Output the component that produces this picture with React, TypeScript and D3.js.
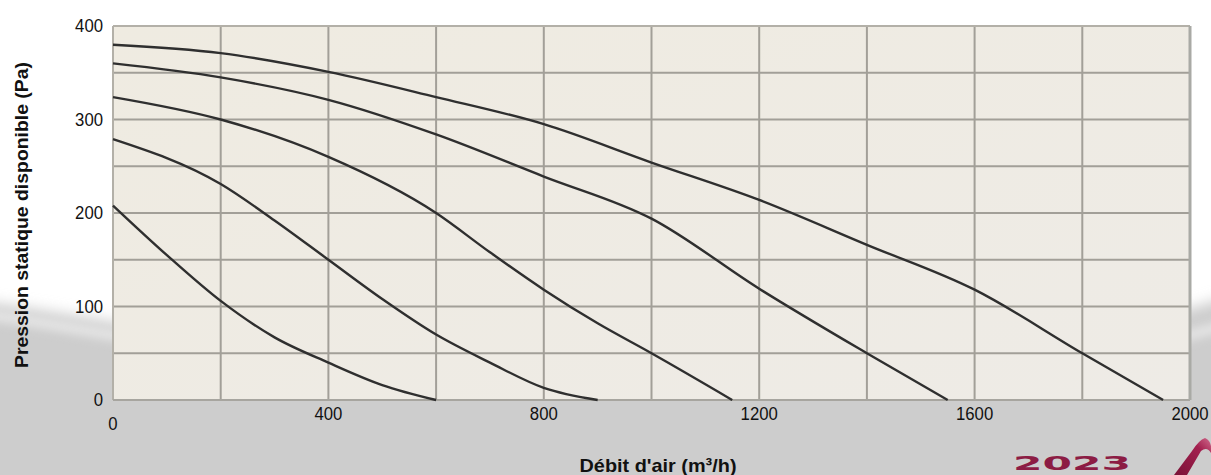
import React from "react";
import * as d3 from "d3";

// Air flow (m³/h) and available static pressure (Pa) for each fan curve
const curve1Flow = [0, 200, 400, 600, 800, 1000, 1200, 1400, 1600, 1800, 1950];
const curve1Pressure = [380, 371, 351, 324, 295, 254, 214, 166, 118, 50, 0];

const curve2Flow = [0, 200, 400, 600, 800, 1000, 1200, 1400, 1550];
const curve2Pressure = [360, 345, 321, 284, 239, 194, 119, 50, 0];

const curve3Flow = [0, 200, 400, 600, 700, 800, 900, 1000, 1150];
const curve3Pressure = [324, 300, 260, 200, 158, 118, 82, 50, 0];

const curve4Flow = [0, 200, 300, 400, 500, 600, 700, 800, 900];
const curve4Pressure = [279, 231, 192, 150, 108, 70, 40, 13, 0];

const curve5Flow = [0, 100, 200, 300, 400, 500, 600];
const curve5Pressure = [208, 155, 106, 67, 40, 16, 0];

const xTickLabels = [0, 400, 800, 1200, 1600, 2000];
const yTickLabels = [0, 100, 200, 300, 400];
const xGrid = [200, 400, 600, 800, 1000, 1200, 1400, 1600, 1800];
const yGrid = [50, 100, 150, 200, 250, 300, 350];

const xTitle = "Débit d'air (m³/h)";
const yTitle = "Pression statique disponible (Pa)";
const logoText = "2023";

const W = 1211;
const H = 475;

export default function App() {
  const x = d3.scaleLinear().domain([0, 2000]).range([113, 1190]);
  const y = d3.scaleLinear().domain([0, 400]).range([400, 26]);

  const curves = [
    [curve1Flow, curve1Pressure],
    [curve2Flow, curve2Pressure],
    [curve3Flow, curve3Pressure],
    [curve4Flow, curve4Pressure],
    [curve5Flow, curve5Pressure],
  ].map(([f, p]) => f.map((v, i) => [v, p[i]] as [number, number]));

  const line = d3
    .line<[number, number]>()
    .x((d) => x(d[0]))
    .y((d) => y(d[1]))
    .curve(d3.curveMonotoneX);

  const font = "'Liberation Sans', Arial, sans-serif";
  const x0 = x(0), x1 = x(2000), y0 = y(0), y1 = y(400);

  return (
    <svg
      width={W}
      height={H}
      style={{ position: "absolute", left: 0, top: 0, display: "block" }}
      fontFamily={font}
    >
      <defs>
        <filter id="soft" x="-10%" y="-50%" width="120%" height="200%">
          <feGaussianBlur stdDeviation="7" />
        </filter>
        <filter id="soft2" x="-10%" y="-50%" width="120%" height="200%">
          <feGaussianBlur stdDeviation="5" />
        </filter>
        <linearGradient id="plotbg" x1="0" y1="0" x2="1" y2="1">
          <stop offset="0" stopColor="#efebe1" />
          <stop offset="1" stopColor="#eeebe6" />
        </linearGradient>
        <linearGradient id="swoosh" x1="0" y1="1" x2="1" y2="0">
          <stop offset="0" stopColor="#7a1237" />
          <stop offset="0.7" stopColor="#a3204f" />
          <stop offset="1" stopColor="#d06a8c" />
        </linearGradient>
      </defs>

      {/* page background */}
      <rect x={0} y={0} width={W} height={H} fill="#ffffff" />
      <path
        d="M-30,300 C250,335 700,470 1250,290 L1250,520 L-30,520 Z"
        fill="#cdcdcd"
        filter="url(#soft)"
      />
      <path
        d="M-30,312 C250,350 700,485 1250,318"
        fill="none"
        stroke="#e6e6e6"
        strokeWidth={10}
        filter="url(#soft2)"
      />
      <rect x={0} y={400} width={W} height={75} fill="#cdcdcd" />

      {/* plot area */}
      <rect x={x0} y={y1} width={x1 - x0} height={y0 - y1} fill="url(#plotbg)" />

      {/* grid */}
      {xGrid.map((v) => (
        <line key={"gx" + v} x1={x(v)} x2={x(v)} y1={y1} y2={y0} stroke="#a29f98" strokeWidth={2} />
      ))}
      {yGrid.map((v) => (
        <line key={"gy" + v} x1={x0} x2={x1} y1={y(v)} y2={y(v)} stroke="#a29f98" strokeWidth={2} />
      ))}

      {/* border */}
      <line x1={x0} x2={x1} y1={y1} y2={y1} stroke="#b3b0a8" strokeWidth={2} />
      <line x1={x0} x2={x0} y1={y1} y2={y0} stroke="#b3b0a8" strokeWidth={2} />
      <line x1={x0} x2={x1} y1={y0} y2={y0} stroke="#a7a59f" strokeWidth={2} />
      <line x1={x1} x2={x1} y1={y1} y2={y0} stroke="#a9aaa5" strokeWidth={3} />

      {/* curves */}
      {curves.map((c, i) => (
        <path key={"c" + i} d={line(c) || ""} fill="none" stroke="#2f2f2f" strokeWidth={2.4} strokeLinejoin="round" />
      ))}

      {/* y tick labels */}
      {yTickLabels.map((v) => (
        <text key={"yl" + v} x={103} y={y(v)} dy="0.36em" textAnchor="end" fontSize={18} fill="#111"
          textLength={String(v).length * 9.3} lengthAdjust="spacingAndGlyphs">
          {v}
        </text>
      ))}

      {/* x tick labels */}
      {xTickLabels.map((v) => (
        <text key={"xl" + v} x={x(v)} y={v === 0 ? 430 : 420} textAnchor="middle" fontSize={18} fill="#111"
          textLength={String(v).length * 9.3} lengthAdjust="spacingAndGlyphs">
          {v}
        </text>
      ))}

      {/* axis titles */}
      <text
        transform={`translate(28,215) rotate(-90)`}
        textAnchor="middle"
        fontSize={19}
        fontWeight="bold"
        fill="#111"
        textLength={306}
        lengthAdjust="spacingAndGlyphs"
      >
        {yTitle}
      </text>
      <text x={658} y={472} textAnchor="middle" fontSize={19} fontWeight="bold" fill="#111"
        textLength={157} lengthAdjust="spacingAndGlyphs">
        {xTitle}
      </text>

      {/* logo */}
      <text
        x={1013}
        y={470}
        fontFamily="'DejaVu Sans', sans-serif"
        fontWeight="bold"
        fontSize={20}
        fill="#8c1c44"
        textLength={118}
        lengthAdjust="spacingAndGlyphs"
      >
        {logoText}
      </text>
      <path
        d="M1174,475 L1192,451 Q1199,440 1205,438 Q1210,440 1211,446 L1211,453 Q1207,446 1201,451 L1187,475 Z"
        fill="url(#swoosh)"
      />
    </svg>
  );
}
